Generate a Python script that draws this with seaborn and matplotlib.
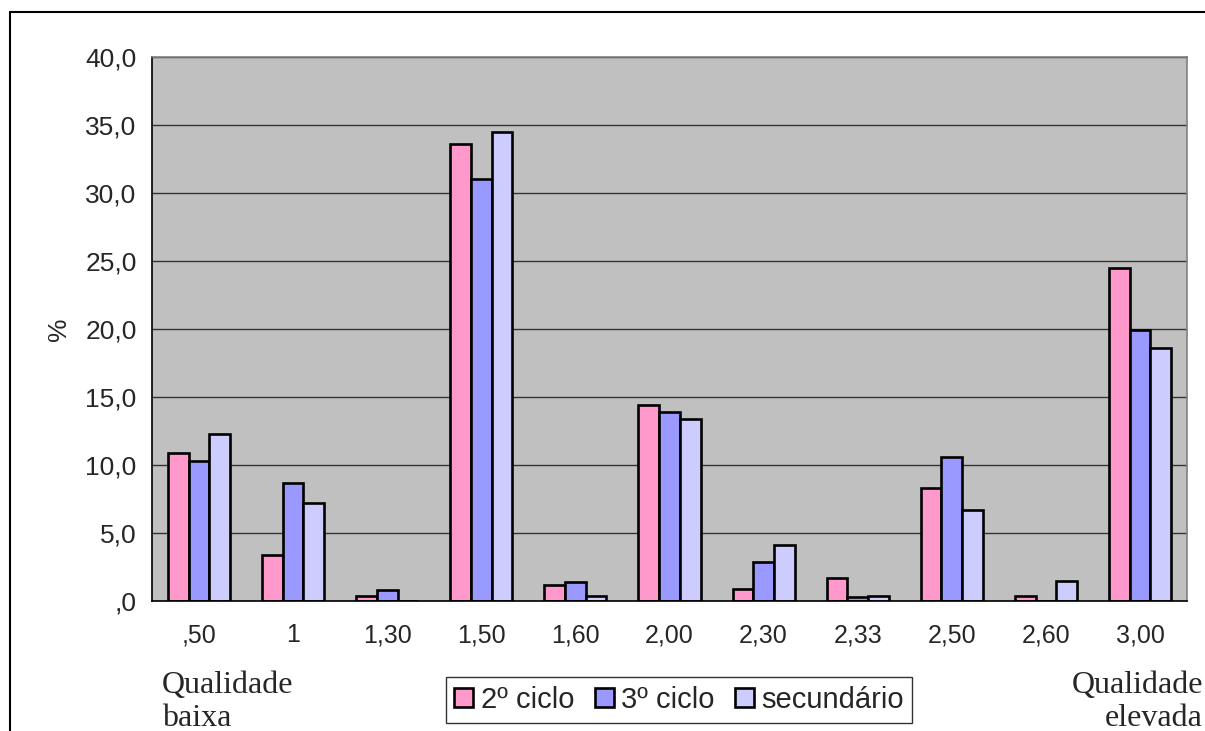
import numpy as np
import pandas as pd
import matplotlib
matplotlib.use("Agg")
import matplotlib.pyplot as plt
import seaborn as sns
from matplotlib.lines import Line2D

# Data
categories = [",50", "1", "1,30", "1,50", "1,60", "2,00", "2,30", "2,33", "2,50", "2,60", "3,00"]
ciclo2 = [10.9, 3.4, 0.4, 33.6, 1.2, 14.4, 0.9, 1.7, 8.3, 0.4, 24.5]
ciclo3 = [10.3, 8.7, 0.8, 31.0, 1.4, 13.9, 2.9, 0.3, 10.6, 0.0, 19.9]
secundario = [12.3, 7.2, 0.0, 34.5, 0.4, 13.4, 4.1, 0.4, 6.7, 1.5, 18.6]
series_names = ["2º ciclo", "3º ciclo", "secundário"]
colors = ["#FF99CC", "#9999FF", "#CCCCFF"]
y_ticks = [0, 5, 10, 15, 20, 25, 30, 35, 40]
y_labels = [",0", "5,0", "10,0", "15,0", "20,0", "25,0", "30,0", "35,0", "40,0"]

df = pd.DataFrame({
    "cat": categories * 3,
    "val": ciclo2 + ciclo3 + secundario,
    "serie": [series_names[0]] * 11 + [series_names[1]] * 11 + [series_names[2]] * 11,
})

sns.set_style("white")
plt.rcParams["font.family"] = ["Liberation Sans", "DejaVu Sans"]

fig = plt.figure(figsize=(12.05, 7.31), dpi=100)
ax = fig.add_axes([152 / 1205, 130 / 731, 1035 / 1205, 544 / 731])
ax.set_facecolor("#C0C0C0")

sns.barplot(data=df, x="cat", y="val", hue="serie", order=categories,
            hue_order=series_names, palette=colors, saturation=1,
            width=0.66, edgecolor="black", linewidth=1.9, ax=ax)

ax.set_xlim(-0.5, len(categories) - 0.5)
ax.set_ylim(0, 40)
ax.set_yticks(y_ticks)
ax.set_yticklabels(y_labels, fontsize=19)
ax.set_axisbelow(True)
ax.yaxis.grid(True, color="#333333", linewidth=1.0)
ax.xaxis.grid(False)

# ticks between the categories, labels centred under the groups
ax.set_xticks(np.arange(len(categories)))
ax.set_xticklabels(categories, fontsize=18)
ax.tick_params(axis="x", length=0, pad=16)
ax.set_xticks(np.arange(len(categories) + 1) - 0.5, minor=True)
ax.tick_params(axis="x", which="minor", length=7, width=1, color="black", direction="out")
ax.tick_params(axis="y", length=7, width=1, color="black", direction="out", pad=4)

ax.set_xlabel("")
ax.set_ylabel("%", fontsize=19, labelpad=10)

for s in ["top", "right"]:
    ax.spines[s].set_color("#808080")
    ax.spines[s].set_linewidth(1.2)
for s in ["left", "bottom"]:
    ax.spines[s].set_color("black")
    ax.spines[s].set_linewidth(1.2)

handles, labels = ax.get_legend_handles_labels()
ax.get_legend().remove()
leg = fig.legend(handles, labels, loc="center", bbox_to_anchor=(679 / 1205, 1 - 700 / 731),
                 ncol=3, fontsize=21, frameon=True, fancybox=False, edgecolor="black",
                 handlelength=0.65, handleheight=0.65, handletextpad=0.25, columnspacing=0.7,
                 borderpad=0.3, borderaxespad=0)
leg.get_frame().set_linewidth(1.0)

serif = ["Liberation Serif", "DejaVu Serif"]
fig.text(162 / 1205, 1 - 671 / 731, "Qualidade\nbaixa", ha="left", va="top",
         fontsize=23, family=serif, linespacing=1.2)
fig.text(1203 / 1205, 1 - 671 / 731, "Qualidade\nelevada", ha="right", va="top",
         fontsize=23, family=serif, linespacing=1.2, multialignment="right")

# outer chart border (left and top edges visible)
fig.add_artist(Line2D([10 / 1205, 10 / 1205], [0, 1 - 12 / 731], transform=fig.transFigure,
                      color="black", linewidth=1.5))
fig.add_artist(Line2D([10 / 1205, 1], [1 - 12 / 731, 1 - 12 / 731], transform=fig.transFigure,
                      color="black", linewidth=1.5))

fig.savefig("out.png", dpi=100)
